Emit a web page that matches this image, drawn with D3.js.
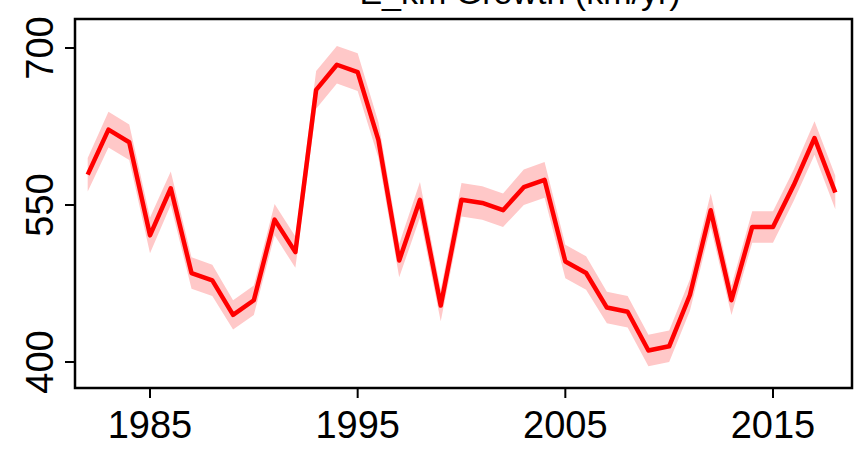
<!DOCTYPE html><html><head><script src="https://d3js.org/d3.v7.min.js"></script>
<style>body{margin:0;background:#fff}</style></head><body><svg id="c" width="861" height="454"></svg>
<script>
const years=d3.range(1982,2019);
const values=[579,622,610,521,566,485,478,445,459,536,505,660,684,677,612,497,555,454,555,552,545,567,574,496,485,452,448,411,415,464,545,459,529,529,569,614,562];
const se=[16,17,17,17,16,15,15,14,14,15,15,18,18,18,17,16,17,15,16,16,16,17,17,16,16,15,15,15,15,15,16,14,15,15,15,16,16];
const xTicks=[1985,1995,2005,2015], yTicks=[400,550,700];
const svg=d3.select("#c");
const x=d3.scaleLinear().domain([1985,2015]).range([150,773]);
const y=d3.scaleLinear().domain([400,700]).range([362,48]);
const L=75,R=852,T=19,B=388;
svg.append("text").attr("x",520).attr("y",4).attr("text-anchor","middle").attr("font-family","Liberation Sans,Arial").attr("font-size",34).text("E_km Growth (km/yr)");
svg.append("path").datum(years).attr("fill","#ffc8c8")
 .attr("d",d3.area().x(d=>x(d)).y0((d,i)=>y(values[i]-se[i])).y1((d,i)=>y(values[i]+se[i])));
svg.append("path").datum(years).attr("fill","none").attr("stroke","#ff0000").attr("stroke-width",4.5).attr("stroke-linejoin","round")
 .attr("d",d3.line().x(d=>x(d)).y((d,i)=>y(values[i])));
svg.append("rect").attr("x",L).attr("y",T).attr("width",R-L).attr("height",B-T).attr("fill","none").attr("stroke","#000").attr("stroke-width",2.5);
const xa=svg.append("g");
xTicks.forEach(t=>{xa.append("line").attr("x1",x(t)).attr("x2",x(t)).attr("y1",B).attr("y2",B+10).attr("stroke","#000").attr("stroke-width",2);
 xa.append("text").attr("x",x(t)).attr("y",B+50).attr("text-anchor","middle").attr("font-family","Liberation Sans,Arial").attr("font-size",38).text(t);});
yTicks.forEach(t=>{svg.append("line").attr("x1",L-10).attr("x2",L).attr("y1",y(t)).attr("y2",y(t)).attr("stroke","#000").attr("stroke-width",2);
 svg.append("text").attr("transform",`translate(${L-22},${y(t)}) rotate(-90)`).attr("text-anchor","middle").attr("font-family","Liberation Sans,Arial").attr("font-size",38).text(t);});
</script></body></html>
